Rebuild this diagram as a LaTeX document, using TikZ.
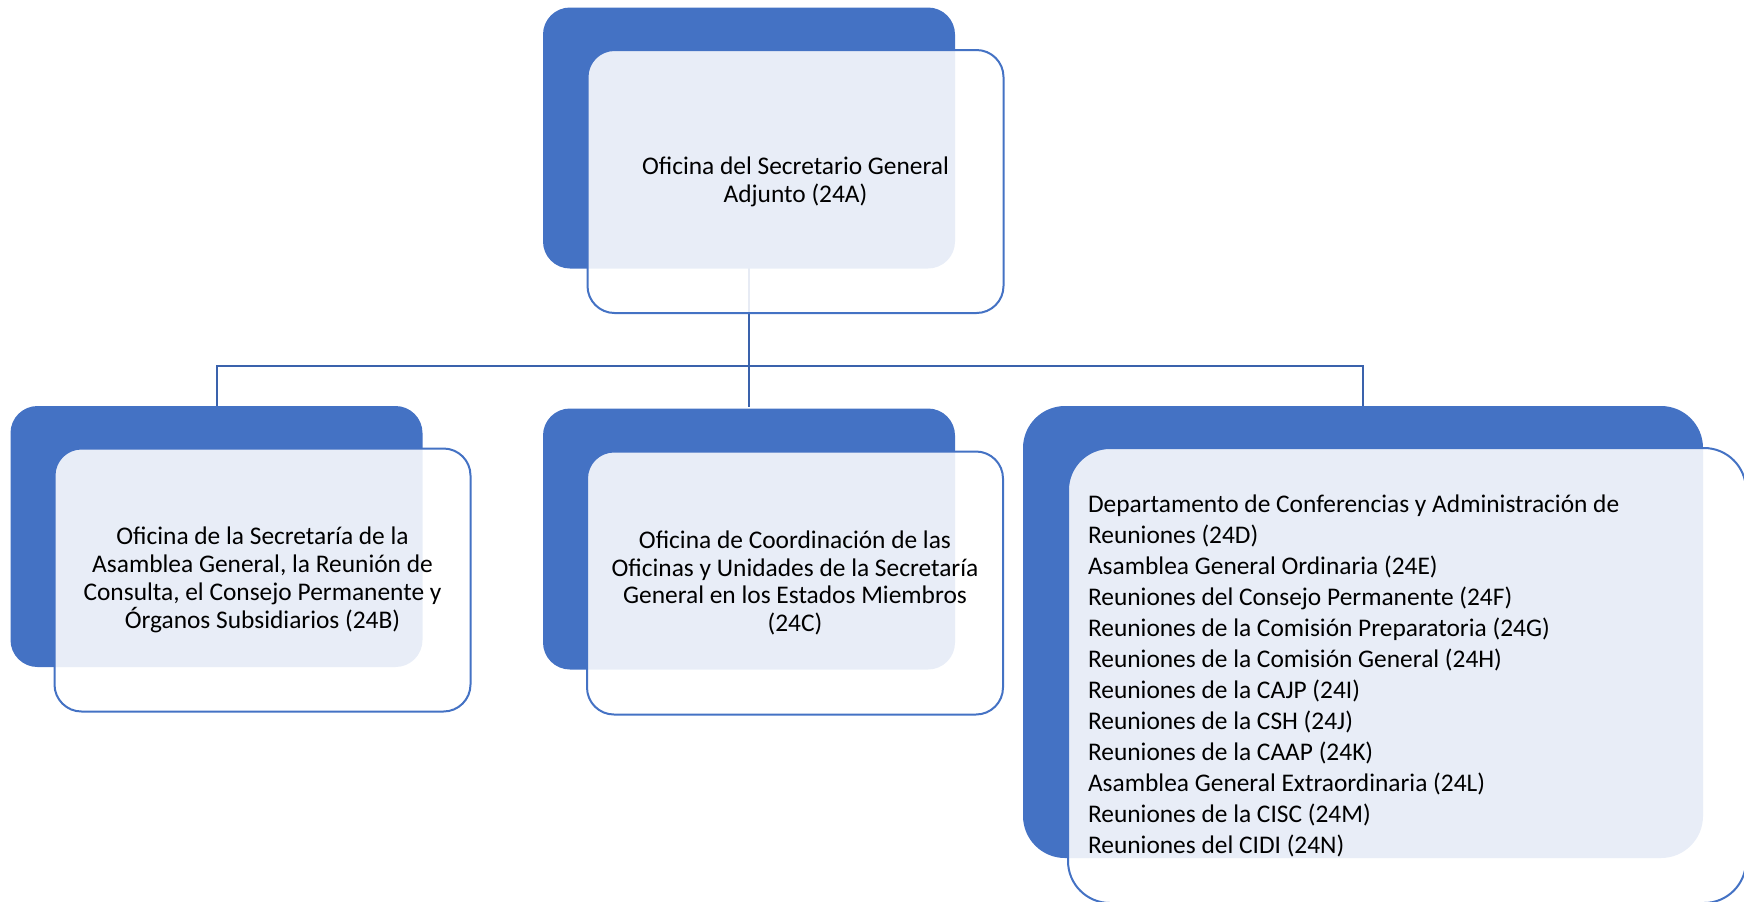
\documentclass[tikz,border=0pt]{standalone}
\usepackage{fontspec}
\setmainfont{Carlito}
\usetikzlibrary{positioning}
\definecolor{oeablue}{HTML}{4472C4}
\definecolor{oealine}{HTML}{3A62AC}

\begin{document}
\begin{tikzpicture}[x=0.5pt,y=-0.5pt,
  back/.style={fill=oeablue,rounded corners=13.5pt,minimum width=206pt,minimum height=130.5pt,inner sep=0pt},
  front/.style={draw=oeablue,line width=1pt,fill=white,fill opacity=0.88,text opacity=1,rounded corners=13.5pt,
    minimum width=208pt,minimum height=131.5pt,inner sep=0pt,align=center,font=\fontsize{12.7}{13.9}\selectfont},
  bigback/.style={back,rounded corners=21pt,minimum width=340pt,minimum height=226pt},
  bigfront/.style={front,rounded corners=21pt,minimum width=339pt,minimum height=227.5pt,
    text width=319pt,inner xsep=10pt,align=flush left,font=\fontsize{12.7}{15.5}\selectfont},
  conn/.style={draw=oealine,line width=1pt}]
  \useasboundingbox (0,0) rectangle (1744,901);
  \clip (0,0) rectangle (1744,901);
  \coordinate (bus) at (749,366);
  \path (749,268) coordinate (sgtop) (749,407) coordinate (b3);
  \draw[conn] (sgtop) -- (bus);
  \draw[conn] (216.5,366) -- (1363,366);
  \draw[conn] (bus) -| (216.5,406);
  \draw[conn] (bus) -- (b3);
  \draw[conn] (bus) -| (1363,406);

  \node[back] (sgback) at (749,138) {};
  \node[front] (sg) at (795.5,181.5) {Oficina del Secretario General\\Adjunto (24A)};

  \node[back] (asback) at (216.5,536.5) {};
  \node[front] (as) at (262.5,580) {Oficina de la Secretaría de la\\Asamblea General, la Reunión de\\Consulta, el Consejo Permanente y\\Órganos Subsidiarios (24B)};

  \node[back] (coback) at (749,539) {};
  \node[front] (co) at (795,583) {Oficina de Coordinación de las\\Oficinas y Unidades de la Secretaría\\General en los Estados Miembros\\(24C)};

  \node[bigback] (reback) at (1363,632) {};
  \node[bigfront] (re) at (1407,675.5) {Departamento de Conferencias y Administración de\\Reuniones (24D)\\Asamblea General Ordinaria (24E)\\Reuniones del Consejo Permanente (24F)\\Reuniones de la Comisión Preparatoria (24G)\\Reuniones de la Comisión General (24H)\\Reuniones de la CAJP (24I)\\Reuniones de la CSH (24J)\\Reuniones de la CAAP (24K)\\Asamblea General Extraordinaria (24L)\\Reuniones de la CISC (24M)\\Reuniones del CIDI (24N)};
\end{tikzpicture}
\end{document}
